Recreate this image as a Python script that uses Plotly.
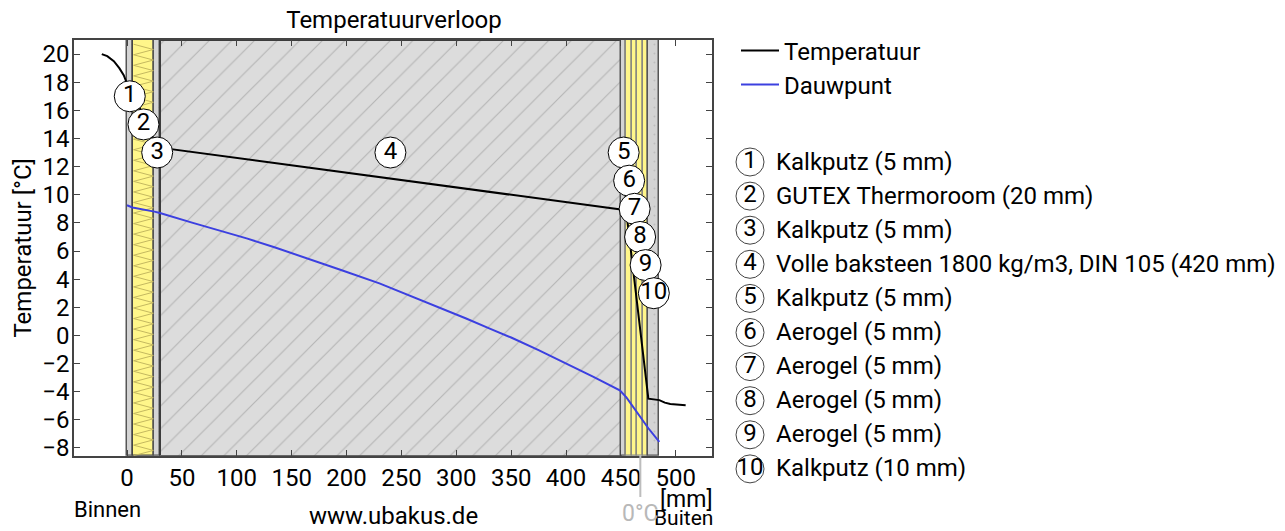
import plotly.graph_objects as go

W, H = 1285, 531
FONT = "Roboto"

layer_names = ["Kalkputz (5 mm)", "GUTEX Thermoroom (20 mm)", "Kalkputz (5 mm)",
               "Volle baksteen 1800 kg/m3, DIN 105 (420 mm)", "Kalkputz (5 mm)",
               "Aerogel (5 mm)", "Aerogel (5 mm)", "Aerogel (5 mm)", "Aerogel (5 mm)",
               "Kalkputz (10 mm)"]
layer_thickness = [5, 20, 5, 420, 5, 5, 5, 5, 5, 10]
layer_kind = ["plaster", "insul", "plaster", "brick", "plaster",
              "aero", "aero", "aero", "aero", "plaster"]
badge_y = [17, 15, 13, 13, 13, 11, 9, 7, 5, 3]

temp_x = [-23, -18, -12, -7, -3, 0, 5, 25, 30, 450, 455, 460, 465, 470, 475, 485, 490, 495, 500, 509]
temp_y = [20, 19.85, 19.5, 19.0, 18.5, 17.9, 17.4, 13.7, 13.35, 8.95, 8.75, 5.45, 2.1, -1.2, -4.5, -4.6, -4.78, -4.88, -4.93, -4.97]
dew_x = [0, 5, 25, 30, 60, 80, 109, 135, 160, 195, 230, 270, 309, 330, 350, 375, 403, 425, 449, 455, 475, 485]
dew_y = [9.25, 9.1, 8.8, 8.7, 8.0, 7.55, 6.9, 6.25, 5.6, 4.65, 3.7, 2.45, 1.2, 0.5, -0.15, -1.05, -2.1, -2.95, -3.9, -4.4, -6.6, -7.57]

x_range = [-48.3, 533]
y_range = [-8.55, 21.0]
x_ticks = list(range(0, 501, 50))
y_ticks = list(range(-8, 21, 2))

list_rows = [162, 196.1, 230.2, 264.3, 298.4, 332.5, 366.6, 400.7, 434.8, 468.9]


def px(x):
    return x / W


def py(y):
    return 1 - y / H


styles = {
    "plaster": dict(color="#cfcfcf", line=dict(color="#555555", width=1.5),
                    pattern=dict(shape=".", size=9, solidity=0.04, fgcolor="#a8a8a8", bgcolor="#d4d4d4")),
    "insul": dict(color="#fff68a", line=dict(color="#444444", width=1.5)),
    "aero": dict(color="#fff68a", line=dict(color="#8a8a80", width=1.5)),
    "brick": dict(color="#dcdcdc", line=dict(color="#3c3c3c", width=2),
                  pattern=dict(shape="/", size=16, solidity=0.07, fgcolor="#8e8e8e", bgcolor="#dcdcdc")),
}

fig = go.Figure()
pos = 0
centers = []
for name, t, kind in zip(layer_names, layer_thickness, layer_kind):
    centers.append(pos + t / 2)
    fig.add_trace(go.Bar(x=[pos + t / 2], y=[y_range[1] - y_range[0]], base=y_range[0], width=[t],
                         marker=styles[kind], showlegend=False, name=name, hoverinfo="name"))
    pos += t

# insulation zigzag hatch inside the GUTEX layer
zx, zy, v, side = [], [], y_range[0], 0
while v < y_range[1]:
    zx.append(6 if side == 0 else 24)
    zy.append(v)
    v += 0.375
    side = 1 - side
fig.add_trace(go.Scatter(x=zx, y=zy, mode="lines", line=dict(color="#c4b860", width=1),
                         showlegend=False, hoverinfo="skip"))

fig.add_trace(go.Scatter(x=temp_x, y=temp_y, mode="lines", name="Temperatuur",
                         line=dict(color="#000000", width=2), legend="legend"))
fig.add_trace(go.Scatter(x=dew_x, y=dew_y, mode="lines", name="Dauwpunt",
                         line=dict(color="#3c40e0", width=2), legend="legend2"))
fig.add_trace(go.Scatter(x=centers, y=badge_y, mode="markers+text",
                         text=[str(i + 1) for i in range(10)], textposition="middle center",
                         textfont=dict(family=FONT, size=24, color="#000000"),
                         marker=dict(size=31, color="#ffffff", line=dict(color="#000000", width=1)),
                         showlegend=False, hoverinfo="skip"))

# numbered layer list, on hidden pixel-scaled axes
fig.add_trace(go.Scatter(x=[750] * 10, y=list_rows, xaxis="x2", yaxis="y2", mode="markers+text",
                         text=[str(i + 1) for i in range(10)], textposition="middle center",
                         textfont=dict(family=FONT, size=24, color="#000000"),
                         marker=dict(size=28, color="rgba(255,255,255,0)", line=dict(color="#444444", width=1)),
                         showlegend=False, hoverinfo="skip"))
fig.add_trace(go.Scatter(x=[776] * 10, y=[r + 1.5 for r in list_rows], xaxis="x2", yaxis="y2", mode="text",
                         text=layer_names, textposition="middle right",
                         textfont=dict(family=FONT, size=24, color="#000000"),
                         showlegend=False, hoverinfo="skip"))

axis_common = dict(showgrid=False, zeroline=False, ticks="inside", ticklen=6, tickwidth=1,
                   tickcolor="#444444", showline=True, linecolor="#444444", linewidth=1.5, mirror="ticks",
                   tickfont=dict(family=FONT, size=24, color="#000000"))


def note(text, x, y, color="#000000", size=22):
    return dict(text=text, x=px(x), y=py(y), xref="paper", yref="paper", showarrow=False,
                xanchor="center", yanchor="middle", font=dict(family=FONT, size=size, color=color))


legend_common = dict(xanchor="left", yanchor="middle", itemwidth=38, bgcolor="rgba(0,0,0,0)",
                     borderwidth=0, font=dict(family=FONT, size=24, color="#000000"))

fig.update_layout(
    width=W, height=H, autosize=False, margin=dict(l=0, r=0, t=0, b=0, autoexpand=False),
    paper_bgcolor="#ffffff", plot_bgcolor="rgba(0,0,0,0)", barmode="overlay", bargap=0,
    title=dict(text="Temperatuurverloop", x=px(394), y=py(20), xanchor="center", yanchor="middle",
               font=dict(family=FONT, size=24, color="#000000")),
    xaxis=dict(domain=[px(74), px(712)], range=x_range, tickvals=x_ticks, **axis_common),
    yaxis=dict(domain=[py(455.7), py(40)], range=y_range, tickvals=y_ticks, ticklabelstandoff=-2,
               title=dict(text="Temperatuur [°C]", standoff=4, font=dict(family=FONT, size=24, color="#000000")),
               **axis_common),
    xaxis2=dict(domain=[0, 1], range=[0, W], visible=False, anchor="y2", fixedrange=True),
    yaxis2=dict(domain=[0, 1], range=[H, 0], visible=False, anchor="x2", fixedrange=True),
    legend=dict(x=px(736), y=py(51), **legend_common),
    legend2=dict(x=px(736), y=py(85), **legend_common),
    annotations=[
        note("Binnen", 107, 509),
        note("www.ubakus.de", 393, 516, size=24),
        note("[mm]", 686, 499, size=23),
        note("Buiten", 683, 518, size=21),
        note("0°C", 640, 513, color="#b8b8b8", size=23),
    ],
    shapes=[dict(type="line", xref="x", yref="paper", x0=467.7, x1=467.7, y0=py(455), y1=py(497),
                 line=dict(color="#bdbdbd", width=2))],
)

fig.write_html("out.html", config=dict(displayModeBar=False, responsive=False),
               post_script="document.documentElement.style.margin='0';document.body.style.margin='0';document.body.style.overflow='hidden';")
